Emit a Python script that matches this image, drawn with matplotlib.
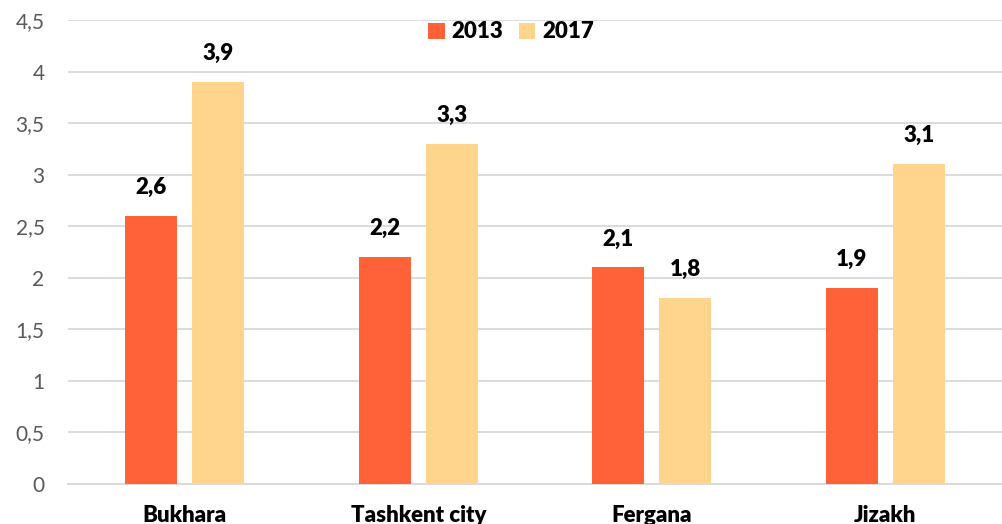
import numpy as np
import matplotlib.pyplot as plt
from matplotlib.ticker import FuncFormatter

plt.rcParams['font.family'] = ['Lato', 'DejaVu Sans']

regions = ["Bukhara", "Tashkent city", "Fergana", "Jizakh"]
years = ["2013", "2017"]
vals_2013 = [2.6, 2.2, 2.1, 1.9]
vals_2017 = [3.9, 3.3, 1.8, 3.1]
colors = ["#FF6138", "#FFD48C"]

fig = plt.figure(figsize=(10.02, 5.24), dpi=100)
ax = fig.add_axes([0.068, 0.0763, 0.932, 0.8855])

x = np.arange(len(regions))
w = 0.223
off = 0.1435
b1 = ax.bar(x - off, vals_2013, w, color=colors[0], label=years[0], zorder=3)
b2 = ax.bar(x + off, vals_2017, w, color=colors[1], label=years[1], zorder=3)

# value labels above bars, decimal comma
for bars in (b1, b2):
    for r in bars:
        h = r.get_height()
        ax.annotate(f"{h:.1f}".replace(".", ","), (r.get_x() + r.get_width() / 2, h),
                    xytext=(0, 13), textcoords="offset points", ha="center", va="bottom",
                    fontsize=16, fontweight="heavy", color="black")

ax.set_xlim(-0.5, 3.5)
ax.set_ylim(0, 4.5)
ax.set_yticks(np.arange(0, 4.51, 0.5))
ax.yaxis.set_major_formatter(FuncFormatter(lambda v, p: f"{v:g}".replace(".", ",")))
ax.set_xticks(x)
ax.set_xticklabels(regions, fontsize=16, fontweight="heavy")
ax.tick_params(axis="y", labelsize=15, labelcolor="#595959", length=0, pad=17)
ax.tick_params(axis="x", length=0, pad=15)
ax.grid(axis="y", color="#D9D9D9", linewidth=1.3, zorder=0)
for s in ["top", "right", "left"]:
    ax.spines[s].set_visible(False)
ax.spines["bottom"].set_color("#D9D9D9")
ax.spines["bottom"].set_linewidth(1.3)

leg = ax.legend(loc="upper center", bbox_to_anchor=(0.474, 1.04), ncol=2, frameon=False,
                prop={"size": 16, "weight": "heavy"}, handlelength=0.75, handleheight=0.75,
                columnspacing=0.7, handletextpad=0.3)

fig.savefig("out.png", dpi=100)
